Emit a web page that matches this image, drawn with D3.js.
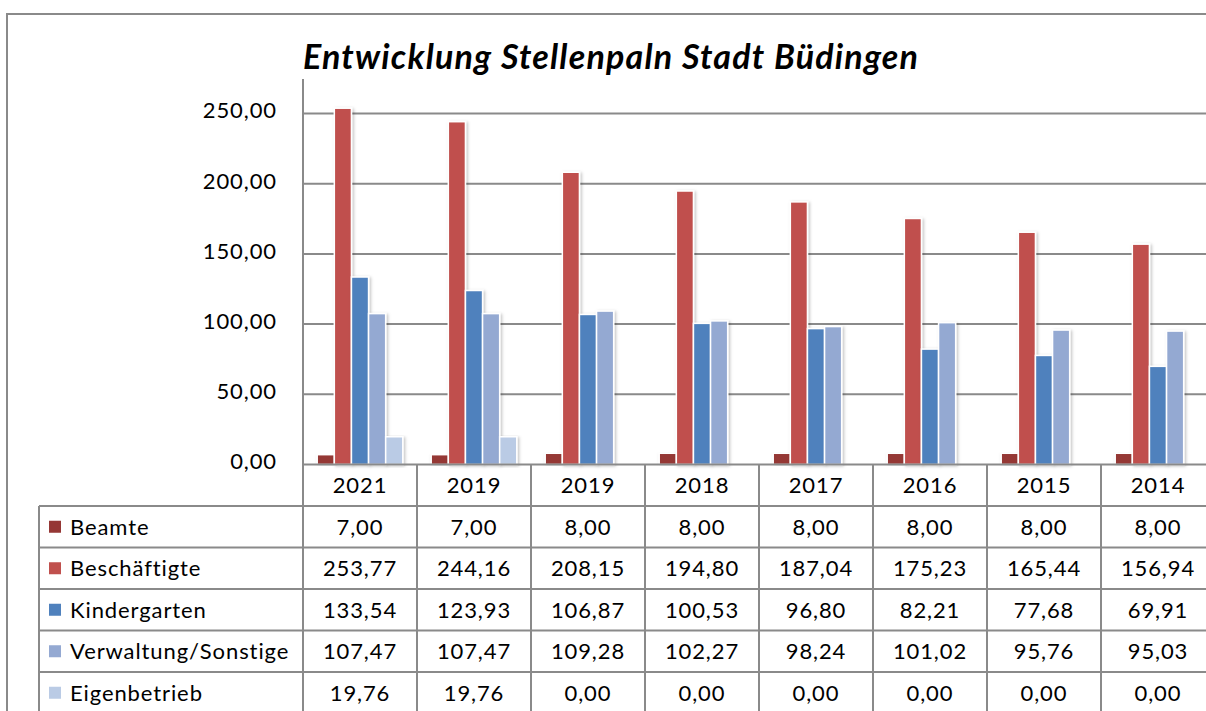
<!DOCTYPE html>
<html>
<head>
<meta charset="utf-8">
<script src="https://cdn.jsdelivr.net/npm/d3@7"></script>
<style>
  html, body { margin: 0; padding: 0; background: #fff; }
  svg { display: block; }
</style>
</head>
<body>
<div id="chart"></div>
<script>
'use strict';

// ── Data ──
var years = ['2021', '2019', '2019', '2018', '2017', '2016', '2015', '2014'];
var seriesNames = ['Beamte', 'Beschäftigte', 'Kindergarten', 'Verwaltung/Sonstige', 'Eigenbetrieb'];
var seriesColors = ['#953735', '#C0504D', '#4F81BD', '#94A9D2', '#BACBE5'];
var beamte = [7.00, 7.00, 8.00, 8.00, 8.00, 8.00, 8.00, 8.00];
var beschaeftigte = [253.77, 244.16, 208.15, 194.80, 187.04, 175.23, 165.44, 156.94];
var kindergarten = [133.54, 123.93, 106.87, 100.53, 96.80, 82.21, 77.68, 69.91];
var verwaltung = [107.47, 107.47, 109.28, 102.27, 98.24, 101.02, 95.76, 95.03];
var eigenbetrieb = [19.76, 19.76, 0.00, 0.00, 0.00, 0.00, 0.00, 0.00];
var yTicks = [0, 50, 100, 150, 200, 250];
var title = 'Entwicklung Stellenpaln Stadt Büdingen';

var series = [beamte, beschaeftigte, kindergarten, verwaltung, eigenbetrieb];

var W = 1206, H = 711;
var gray = '#8a8a8a';
var font = 'Lato, Carlito, Calibri, sans-serif';
var fs = 22, ls = '0.9px';

var svg = d3.select('#chart').append('svg').attr('width', W).attr('height', H);

var defs = svg.append('defs');
var shadow = defs.append('filter').attr('id', 'shadow')
    .attr('x', '-30%').attr('y', '-5%').attr('width', '180%').attr('height', '115%');
shadow.append('feDropShadow')
    .attr('dx', 1.5).attr('dy', 1).attr('stdDeviation', 1.5)
    .attr('flood-color', '#000').attr('flood-opacity', 0.25);

// outer chart border
svg.append('rect')
    .attr('x', 7).attr('y', 14).attr('width', W + 20).attr('height', H + 20)
    .attr('fill', '#fff').attr('stroke', gray).attr('stroke-width', 2);

// ── Scales ──
var plotLeft = 303, plotRight = 303 + 8 * 114;
var x = d3.scaleBand().domain(d3.range(years.length)).range([plotLeft, plotRight]).padding(0);
var y = d3.scaleLinear().domain([0, 250]).range([464.5, 113.5]);
var inner = d3.scaleBand().domain(d3.range(series.length))
    .range([0, x.bandwidth()]).paddingInner(0).paddingOuter(0.83);

// title
svg.append('text')
    .attr('x', 303).attr('y', 69)
    .attr('font-family', font).attr('font-size', 34)
    .attr('font-weight', 'bold').attr('font-style', 'italic')
    .attr('textLength', 615).attr('lengthAdjust', 'spacing')
    .attr('fill', '#000')
    .text(title);

// gridlines
svg.append('g').selectAll('line')
    .data(yTicks.filter(function(t) { return t > 0; })).enter()
    .append('line')
    .attr('x1', plotLeft).attr('x2', W + 10)
    .attr('y1', function(d) { return y(d); }).attr('y2', function(d) { return y(d); })
    .attr('stroke', gray).attr('stroke-width', 2);

// y axis labels
var fmt = function(v) { return d3.format('.2f')(v).replace('.', ','); };
var yAxis = d3.axisLeft(y).tickValues(yTicks).tickFormat(fmt).tickSize(0).tickPadding(26);
var yg = svg.append('g').attr('transform', 'translate(' + plotLeft + ',0)').call(yAxis);
yg.select('.domain').remove();
yg.selectAll('text').attr('font-family', font).attr('font-size', fs)
    .style('letter-spacing', ls).attr('fill', '#000').attr('dy', '0.2em');

// bars
var barG = svg.append('g');
series.forEach(function(vals, si) {
    barG.append('g').selectAll('rect')
        .data(vals).enter()
        .append('rect')
        .attr('x', function(d, i) { return x(i) + inner(si); })
        .attr('width', inner.bandwidth())
        .attr('y', function(d) { return y(d); })
        .attr('height', function(d) { return y(0) - y(d); })
        .attr('fill', seriesColors[si])
        .attr('stroke', '#fff').attr('stroke-width', 1.5)
        .attr('filter', function(d) { return d > 0 ? 'url(#shadow)' : null; })
        .style('display', function(d) { return d > 0 ? null : 'none'; });
});

// y axis line
svg.append('line')
    .attr('x1', plotLeft).attr('x2', plotLeft).attr('y1', 79).attr('y2', 506)
    .attr('stroke', gray).attr('stroke-width', 2);

// ── Data table ──
var headTop = y(0), rowH = 41.5, headH = 41.5;
var tableLeft = 39;
var rowTop = function(r) { return headTop + headH + r * rowH; };

// x axis line / header top
svg.append('line')
    .attr('x1', plotLeft).attr('x2', W + 10).attr('y1', headTop).attr('y2', headTop)
    .attr('stroke', gray).attr('stroke-width', 2);

// header year labels
svg.append('g').selectAll('text')
    .data(years).enter()
    .append('text')
    .attr('x', function(d, i) { return x(i) + x.bandwidth() / 2; })
    .attr('y', headTop + headH / 2)
    .attr('dy', '0.36em')
    .attr('text-anchor', 'middle')
    .attr('font-family', font).attr('font-size', fs).style('letter-spacing', ls).attr('fill', '#000')
    .text(function(d) { return d; });

// horizontal row lines
svg.append('g').selectAll('line')
    .data(d3.range(series.length + 1)).enter()
    .append('line')
    .attr('x1', tableLeft).attr('x2', W + 10)
    .attr('y1', function(r) { return rowTop(r); }).attr('y2', function(r) { return rowTop(r); })
    .attr('stroke', gray).attr('stroke-width', 2);

// vertical column lines
svg.append('g').selectAll('line')
    .data(d3.range(1, years.length + 1)).enter()
    .append('line')
    .attr('x1', function(i) { return plotLeft + i * x.bandwidth(); })
    .attr('x2', function(i) { return plotLeft + i * x.bandwidth(); })
    .attr('y1', headTop).attr('y2', H + 10)
    .attr('stroke', gray).attr('stroke-width', 2);
svg.append('line')
    .attr('x1', plotLeft).attr('x2', plotLeft).attr('y1', headTop).attr('y2', H + 10)
    .attr('stroke', gray).attr('stroke-width', 2);
svg.append('line')
    .attr('x1', tableLeft).attr('x2', tableLeft).attr('y1', rowTop(0)).attr('y2', H + 10)
    .attr('stroke', gray).attr('stroke-width', 2);

// legend keys and names
var rows = svg.append('g').selectAll('g')
    .data(seriesNames).enter()
    .append('g')
    .attr('transform', function(d, i) { return 'translate(0,' + (rowTop(i) + rowH / 2) + ')'; });
rows.append('rect')
    .attr('x', 49).attr('y', -6).attr('width', 12).attr('height', 12)
    .attr('fill', function(d, i) { return seriesColors[i]; });
rows.append('text')
    .attr('x', 70).attr('dy', '0.36em')
    .attr('font-family', font).attr('font-size', fs).style('letter-spacing', ls).attr('fill', '#000')
    .text(function(d) { return d; });

// values
series.forEach(function(vals, si) {
    svg.append('g').selectAll('text')
        .data(vals).enter()
        .append('text')
        .attr('x', function(d, i) { return x(i) + x.bandwidth() / 2; })
        .attr('y', rowTop(si) + rowH / 2)
        .attr('dy', '0.36em')
        .attr('text-anchor', 'middle')
        .attr('font-family', font).attr('font-size', fs).style('letter-spacing', ls).attr('fill', '#000')
        .text(function(d) { return fmt(d); });
});
</script>
</body>
</html>
